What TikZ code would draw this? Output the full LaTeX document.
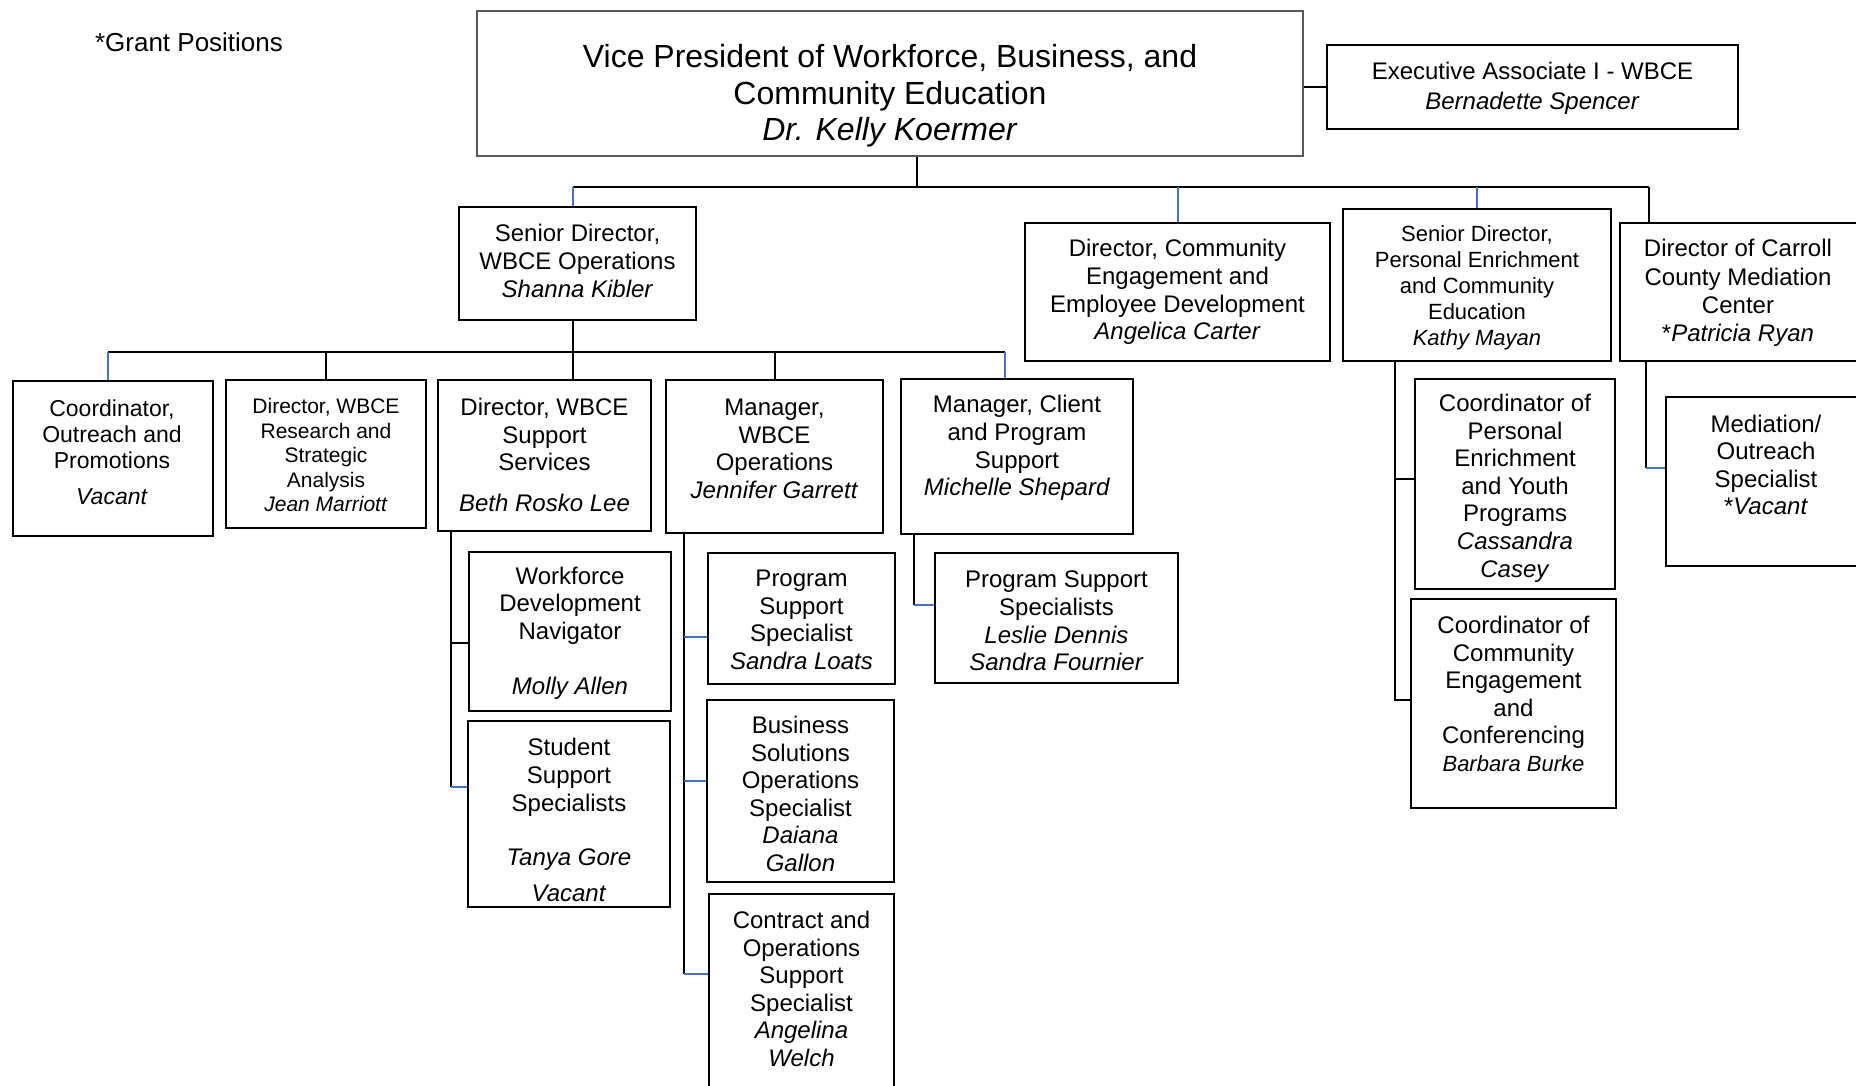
\documentclass[tikz,border=0pt]{standalone}
\usepackage{fontspec}
\setmainfont{Liberation Sans}
\definecolor{lineblue}{HTML}{4472C4}
\definecolor{vpgray}{HTML}{595959}
\tikzset{
  unit/.style={draw, line width=2.5pt, inner sep=0pt},
  txt/.style={align=center, inner sep=0pt, yshift=-3pt, font=\fontsize{24}{27.6}\selectfont},
  link/.style={line width=2pt},
  bluelink/.style={line width=2pt, draw=lineblue},
}

\begin{document}
\begin{tikzpicture}[x=1pt,y=-1pt]

    \useasboundingbox (0,0) rectangle (1856,1085);

    % Note and top boxes
    \node[txt, font=\fontsize{26}{30}\selectfont] (grant) at (189,39) {*Grant Positions};
    \node[unit, draw=vpgray, line width=2pt, minimum width=826pt, minimum height=145pt] (vp) at (890,83.5) {};
    \node[txt, font=\fontsize{32}{36.7}\selectfont] (vpT) at (890,93) {Vice President of Workforce, Business, and\\Community Education\\\textit{Dr. Kelly Koermer}};
    \node[unit, minimum width=411pt, minimum height=84pt] (ea) at (1532.5,87) {};
    \node[txt, font=\fontsize{24}{29.6}\selectfont] (eaT) at (1532.5,85) {Executive Associate I - WBCE\\\textit{Bernadette Spencer}};

    % First level
    \node[unit, minimum width=237pt, minimum height=113pt] (ops) at (577.5,263.5) {};
    \node[txt] (opsT) at (577.5,258) {Senior Director,\\WBCE Operations\\\textit{Shanna Kibler}};
    \node[unit, minimum width=305pt, minimum height=138pt] (cedev) at (1177.5,292) {};
    \node[txt] (cedevT) at (1177.5,289) {Director, Community\\Engagement and\\Employee Development\\\textit{Angelica Carter}};
    \node[unit, minimum width=268pt, minimum height=152pt] (pece) at (1477,285) {};
    \node[txt, font=\fontsize{22}{26}\selectfont] (peceT) at (1477,285) {Senior Director,\\Personal Enrichment\\and Community\\Education\\\textit{Kathy Mayan}};
    \node[unit, minimum width=238pt, minimum height=138pt] (carroll) at (1739,292) {};
    \node[txt, font=\fontsize{24}{28.4}\selectfont] (carrollT) at (1738,290) {Director of Carroll\\County Mediation\\Center\\*\textit{Patricia Ryan}};

    % Second level
    \node[unit, minimum width=200pt, minimum height=155pt] (outreach) at (113,458.5) {};
    \node[txt, font=\fontsize{23}{26}\selectfont] (outreachT) at (112,449) {Coordinator,\\Outreach and\\Promotions\\[10pt]\textit{Vacant}};
    \node[unit, minimum width=200pt, minimum height=148pt] (research) at (326,454) {};
    \node[txt, font=\fontsize{21}{24.5}\selectfont] (researchT) at (326,452) {Director, WBCE\\Research and\\Strategic\\Analysis\\\textit{Jean Marriott}};
    \node[unit, minimum width=213pt, minimum height=151pt] (support) at (544.5,455.5) {};
    \node[txt] (supportT) at (544.5,452) {Director, WBCE\\Support\\Services\\[13pt]\textit{Beth Rosko Lee}};
    \node[unit, minimum width=217pt, minimum height=153pt] (mgrops) at (774.5,456.5) {};
    \node[txt] (mgropsT) at (774.5,446) {Manager,\\WBCE\\Operations\\\textit{Jennifer Garrett}};
    \node[unit, minimum width=232pt, minimum height=155pt] (client) at (1017,456.5) {};
    \node[txt] (clientT) at (1017,445) {Manager, Client\\and Program\\Support\\\textit{Michelle Shepard}};

    % Third level
    \node[unit, minimum width=202pt, minimum height=159pt] (wdn) at (570,631.5) {};
    \node[txt] (wdnT) at (570,630) {Workforce\\Development\\Navigator\\[27.6pt]\textit{Molly Allen}};
    \node[unit, minimum width=202pt, minimum height=186pt] (ssp) at (569,814) {};
    \node[txt] (sspT) at (569,817) {Student\\Support\\Specialists\\[27pt]\textit{Tanya Gore}\\[8pt]\textit{Vacant}};
    \node[unit, minimum width=187pt, minimum height=131pt] (pss) at (801.5,618.5) {};
    \node[txt] (pssT) at (801.5,617) {Program\\Support\\Specialist\\\textit{Sandra Loats}};
    \node[unit, minimum width=187pt, minimum height=182pt] (bso) at (800.5,791) {};
    \node[txt] (bsoT) at (800.5,791) {Business\\Solutions\\Operations\\Specialist\\\textit{Daiana}\\\textit{Gallon}};
    \node[unit, minimum width=185pt, minimum height=200pt] (cos) at (801.5,994) {};
    \node[txt] (cosT) at (801.5,986) {Contract and\\Operations\\Support\\Specialist\\\textit{Angelina}\\\textit{Welch}};
    \node[unit, minimum width=243pt, minimum height=130pt] (pss2) at (1056.5,618) {};
    \node[txt] (pss2T) at (1056.5,618) {Program Support\\Specialists\\\textit{Leslie Dennis}\\\textit{Sandra Fournier}};
    \node[unit, minimum width=200pt, minimum height=210pt] (cpe) at (1515,484) {};
    \node[txt] (cpeT) at (1515,485) {Coordinator of\\Personal\\Enrichment\\and Youth\\Programs\\\textit{Cassandra}\\\textit{Casey}};
    \node[unit, minimum width=205pt, minimum height=209pt] (cce) at (1513.5,703.5) {};
    \node[txt] (cceT) at (1513.5,691) {Coordinator of\\Community\\Engagement\\and\\Conferencing\\{\fontsize{22}{27.6}\selectfont\textit{Barbara Burke}}};
    \node[unit, minimum width=200pt, minimum height=169pt] (med) at (1766,481.5) {};
    \node[txt] (medT) at (1766,462) {Mediation/\\Outreach\\Specialist\\*\textit{Vacant}};

    % Top connectors
    \draw[link] (ea.west) -- (ea.west -| vp.east);
    \coordinate (vpdrop) at (917,187);
    \coordinate (bus1) at (573,187);
    \coordinate (bus2) at (1649,187);
    \draw[link] (vpdrop |- vp.south) -- (vpdrop);
    \draw[link] (bus1) -- (bus2);
    \draw[bluelink] (bus1) -- (bus1 |- ops.north);
    \draw[bluelink] (cedev.north |- bus1) -- (cedev.north);
    \draw[bluelink] (pece.north |- bus1) -- (pece.north);
    \draw[link] (bus2) -- (bus2 |- carroll.north);

    % Second level connectors
    \coordinate (bus3) at (108,352);
    \coordinate (bus4) at (1005,352);
    \draw[link] (bus1 |- ops.south) -- (bus1 |- support.north);
    \draw[link] (bus3) -- (bus4);
    \draw[bluelink] (bus3) -- (bus3 |- outreach.north);
    \draw[link] (research.north |- bus3) -- (research.north);
    \draw[link] (mgrops.north |- bus3) -- (mgrops.north);
    \draw[bluelink] (bus4) -- (bus4 |- client.north);

    % Support services staff
    \coordinate (sp1) at ([xshift=14pt]support.south west);
    \coordinate (wdnIn) at ([yshift=-11.5pt]wdn.west);
    \coordinate (sspIn) at ([yshift=27pt]ssp.west);
    \draw[link] (sp1) -- (sp1 |- sspIn);
    \draw[link] (sp1 |- wdnIn) -- (wdnIn);
    \draw[bluelink] (sp1 |- sspIn) -- (sspIn);

    % Operations staff
    \coordinate (sp2) at ([xshift=19pt]mgrops.south west);
    \coordinate (pssIn) at ([yshift=-18.5pt]pss.west);
    \coordinate (bsoIn) at ([yshift=10pt]bso.west);
    \coordinate (cosIn) at ([yshift=20pt]cos.west);
    \draw[link] (sp2) -- (sp2 |- cosIn);
    \draw[bluelink] (sp2 |- pssIn) -- (pssIn);
    \draw[bluelink] (sp2 |- bsoIn) -- (bsoIn);
    \draw[bluelink] (sp2 |- cosIn) -- (cosIn);

    % Client and program support staff
    \coordinate (sp3) at ([xshift=14pt]client.south west);
    \coordinate (pss2In) at ([yshift=13pt]pss2.west);
    \draw[link] (sp3) -- (sp3 |- pss2In);
    \draw[bluelink] (sp3 |- pss2In) -- (pss2In);

    % Personal enrichment staff
    \coordinate (sp4) at ([xshift=53pt]pece.south west);
    \coordinate (cpeIn) at ([yshift=5pt]cpe.west);
    \coordinate (cceIn) at ([yshift=3.5pt]cce.west);
    \draw[link] (sp4) |- (cceIn);
    \draw[link] (sp4 |- cpeIn) -- (cpeIn);

    % Mediation center staff
    \coordinate (sp5) at ([xshift=27pt]carroll.south west);
    \coordinate (medIn) at ([yshift=13.5pt]med.west);
    \draw[link] (sp5) -- (sp5 |- medIn);
    \draw[bluelink] (sp5 |- medIn) -- (medIn);

\end{tikzpicture}
\end{document}
